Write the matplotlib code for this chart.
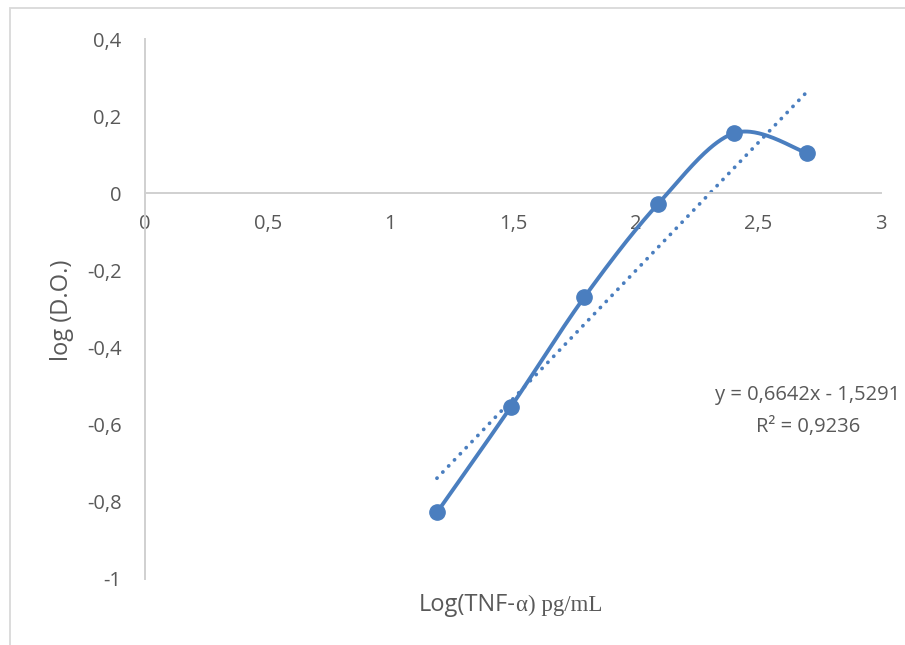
import numpy as np
import matplotlib
matplotlib.use("Agg")
import matplotlib.pyplot as plt
from matplotlib.patches import Rectangle

# Standard curve data: log of TNF-alpha concentration vs log of optical density
log_tnf = [1.19, 1.49, 1.79, 2.09, 2.40, 2.70]
log_do = [-0.8275, -0.555, -0.270, -0.0285, 0.1556, 0.104]

# Linear trendline as reported
slope = 0.6642
intercept = -1.5291
r_squared = 0.9236

x_ticks = [0, 0.5, 1, 1.5, 2, 2.5, 3]
x_tick_labels = ["0", "0,5", "1", "1,5", "2", "2,5", "3"]
y_ticks = [-1, -0.8, -0.6, -0.4, -0.2, 0, 0.2, 0.4]
y_tick_labels = ["-1", "-0,8", "-0,6", "-0,4", "-0,2", "0", "0,2", "0,4"]

BLUE = "#4A7EBF"
GRAY_TEXT = "#595959"
AXIS_GRAY = "#D0D0D0"
FONT = "Open Sans"


def smooth_curve(xs, ys, n=60):
    """Catmull-Rom style cubic Bezier through the points."""
    pts = np.column_stack([xs, ys]).astype(float)
    out = [pts[0]]
    t = np.linspace(0, 1, n)[1:, None]
    for i in range(len(pts) - 1):
        p0 = pts[i - 1] if i > 0 else pts[i]
        p1 = pts[i]
        p2 = pts[i + 1]
        p3 = pts[i + 2] if i + 2 < len(pts) else pts[i + 1]
        c1 = p1 + (p2 - p0) / 6.0
        c2 = p2 - (p3 - p1) / 6.0
        seg = ((1 - t) ** 3) * p1 + 3 * ((1 - t) ** 2) * t * c1 \
            + 3 * (1 - t) * t ** 2 * c2 + t ** 3 * p2
        out.extend(seg)
    out = np.array(out)
    return out[:, 0], out[:, 1]


def fmt(v):
    return f"{v}".replace(".", ",")


W, H = 905, 645
fig = plt.figure(figsize=(W / 100, H / 100), dpi=100)
fig.patch.set_facecolor("white")

# chart area frame
fig.patches.append(Rectangle((9.5 / W, -0.1), 1.2, (H - 8.5) / H + 0.1,
                             transform=fig.transFigure, fill=False,
                             edgecolor="#D9D9D9", linewidth=1.3))

ax = fig.add_axes([145 / W, (H - 579) / H, (881 - 145) / W, (579 - 39) / H])
ax.set_xlim(0, 3)
ax.set_ylim(-1, 0.4)
ax.set_facecolor("none")

for side in ("top", "right"):
    ax.spines[side].set_visible(False)
ax.spines["bottom"].set_position(("data", 0))
for side in ("left", "bottom"):
    ax.spines[side].set_color(AXIS_GRAY)
    ax.spines[side].set_linewidth(1.4)

ax.set_xticks(x_ticks)
ax.set_xticklabels(x_tick_labels)
ax.set_yticks(y_ticks)
ax.set_yticklabels(y_tick_labels)
ax.tick_params(axis="x", length=0, pad=15, labelsize=14.5, labelcolor=GRAY_TEXT)
ax.tick_params(axis="y", length=0, pad=17, labelsize=14.5, labelcolor=GRAY_TEXT)
for lab in ax.get_xticklabels() + ax.get_yticklabels():
    lab.set_fontfamily(FONT)

# trendline
tx = np.array([log_tnf[0], log_tnf[-1]])
ax.plot(tx, slope * tx + intercept, color=BLUE, linewidth=2.7,
        linestyle=(0, (0.05, 2.2)), dash_capstyle="round", zorder=2)

# smoothed series with markers
sx, sy = smooth_curve(log_tnf, log_do)
ax.plot(sx, sy, color=BLUE, linewidth=2.8, solid_capstyle="round", zorder=3)
ax.plot(log_tnf, log_do, linestyle="none", marker="o", markersize=11,
        color=BLUE, zorder=4)

ax.text(808 / W, (H - 411) / H,
        f"y = {fmt(slope)}x - {fmt(-intercept)}\nR² = {fmt(r_squared)}",
        transform=fig.transFigure, ha="center", va="center",
        fontsize=14.5, color=GRAY_TEXT, family=FONT, linespacing=1.75)

# axis titles
fig.text(62 / W, (H - 310) / H, "log (D.O.)", rotation=90, ha="center",
         va="center", fontsize=17, color=GRAY_TEXT, family=FONT)
split_x = 516 / W
fig.text(split_x, (H - 605) / H, "Log(TNF-", ha="right", va="center",
         fontsize=17, color=GRAY_TEXT, family=FONT)
fig.text(split_x, (H - 605) / H, "α) pg/mL", ha="left", va="center",
         fontsize=16.5, color=GRAY_TEXT, family="Liberation Serif")

fig.savefig("out.png", dpi=100, facecolor="white")
